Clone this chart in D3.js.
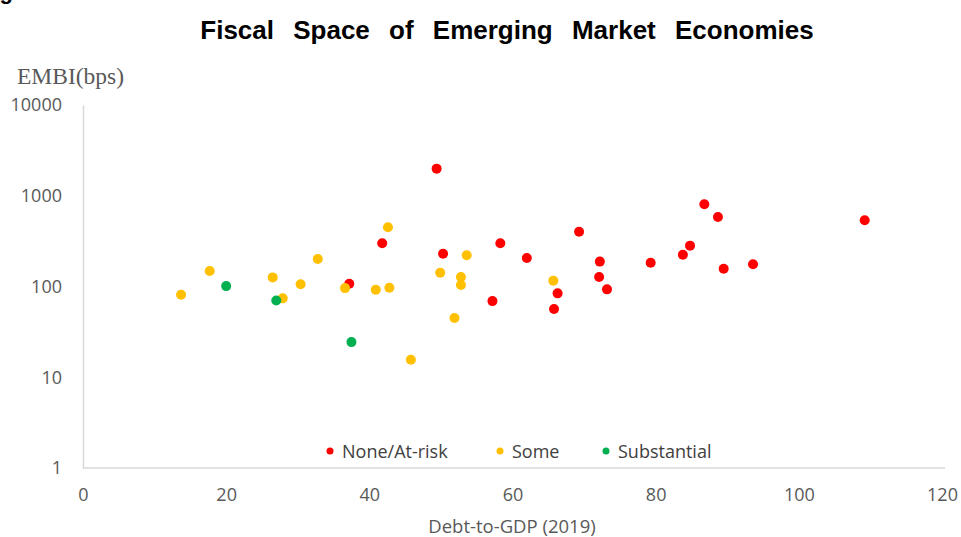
<!DOCTYPE html>
<html>
<head>
<meta charset="utf-8">
<script src="https://cdn.jsdelivr.net/npm/d3@7"></script>
<style>
  body { margin: 0; background: #fff; }
  svg { display: block; }
</style>
</head>
<body>
<div id="chart"></div>
<script>
// data: debt-to-GDP (%) and EMBI spread (bps)
var xTicks = [0, 20, 40, 60, 80, 100, 120];
var yTicks = [1, 10, 100, 1000, 10000];

var groups = ["None/At-risk", "Some", "Substantial"];
var groupColors = ["#ff0000", "#ffc000", "#00b050"];

var noneDebt = [49.4, 41.8, 50.3, 37.2, 69.3, 58.3, 62.0, 72.2, 79.3, 83.8, 84.8, 72.1, 73.2, 66.3, 57.2, 65.8, 86.8, 88.7, 109.2, 89.5, 93.6];
var noneEmbi = [1990, 299, 230, 107, 402, 299, 206, 188, 183, 224, 282, 127, 93, 84, 69, 56.5, 805, 583, 536, 157, 176];

var someDebt = [42.6, 32.8, 49.9, 17.7, 13.7, 26.5, 30.4, 36.6, 40.9, 42.8, 27.9, 45.8, 53.6, 52.8, 52.8, 65.7, 51.9];
var someEmbi = [449, 201, 142, 148, 81, 126, 106, 96, 92, 97, 74, 15.6, 221, 127, 104, 116, 45];

var substDebt = [20.0, 27.0, 37.5];
var substEmbi = [101, 70, 24.4];

var W = 961, H = 537;
var svg = d3.select("#chart").append("svg")
    .attr("width", W)
    .attr("height", H);

var x = d3.scaleLinear().domain([0, 120]).range([83, 942]);
var y = d3.scaleLog().domain([1, 10000]).range([468, 105]);

var tickFont = "'Open Sans', sans-serif";

// figure label, cut off by the top edge as in the original
svg.append("text")
    .attr("x", -20)
    .attr("y", -1)
    .style("font-family", "'Liberation Sans', Arial, sans-serif")
    .style("font-weight", "bold")
    .style("font-size", "22px")
    .text("Figure 3.5");

svg.append("text")
    .attr("x", 507)
    .attr("y", 39)
    .attr("text-anchor", "middle")
    .style("font-family", "'Liberation Sans', Arial, sans-serif")
    .style("font-weight", "bold")
    .style("font-size", "26px")
    .style("word-spacing", "12px")
    .style("fill", "#000")
    .text("Fiscal Space of Emerging Market Economies");

svg.append("text")
    .attr("x", 17)
    .attr("y", 84)
    .style("font-family", "'Liberation Serif', 'Times New Roman', serif")
    .style("font-size", "23.5px")
    .style("fill", "#595959")
    .text("EMBI(bps)");

var yAxis = svg.append("g")
    .attr("transform", "translate(" + x(0) + ",0)")
    .call(d3.axisLeft(y).tickValues(yTicks).tickFormat(d3.format("d"))
        .tickSize(0).tickSizeOuter(0).tickPadding(21));

var xAxis = svg.append("g")
    .attr("transform", "translate(0," + y(1) + ")")
    .call(d3.axisBottom(x).tickValues(xTicks)
        .tickSize(0).tickSizeOuter(0).tickPadding(20));

[yAxis, xAxis].forEach(function(a) {
    a.select(".domain").attr("stroke", "#d9d9d9").attr("stroke-width", 1.5);
    a.selectAll("text")
        .style("font-family", tickFont)
        .style("font-size", "18px")
        .style("fill", "#595959");
});
xAxis.select(".domain").attr("d", "M" + x(0) + ",0H945");

svg.append("text")
    .attr("x", 512)
    .attr("y", 533)
    .attr("text-anchor", "middle")
    .style("font-family", tickFont)
    .style("font-size", "18.5px")
    .style("fill", "#595959")
    .text("Debt-to-GDP (2019)");

// points, red first so yellow and green sit on top
var sets = [
    { debt: noneDebt, embi: noneEmbi, color: groupColors[0] },
    { debt: someDebt, embi: someEmbi, color: groupColors[1] },
    { debt: substDebt, embi: substEmbi, color: groupColors[2] }
];

sets.forEach(function(s) {
    svg.append("g")
        .selectAll("circle")
        .data(d3.range(s.debt.length))
        .join("circle")
        .attr("cx", function(i) { return x(s.debt[i]); })
        .attr("cy", function(i) { return y(s.embi[i]); })
        .attr("r", 5)
        .attr("fill", s.color);
});

// legend
var legendX = [330, 500, 606];
var legend = svg.append("g");
groups.forEach(function(g, i) {
    legend.append("circle")
        .attr("cx", legendX[i])
        .attr("cy", 451)
        .attr("r", 3.5)
        .attr("fill", groupColors[i]);
    legend.append("text")
        .attr("x", legendX[i] + 12)
        .attr("y", 458)
        .style("font-family", tickFont)
        .style("font-size", "18px")
        .style("fill", "#404040")
        .text(g);
});
</script>
</body>
</html>
